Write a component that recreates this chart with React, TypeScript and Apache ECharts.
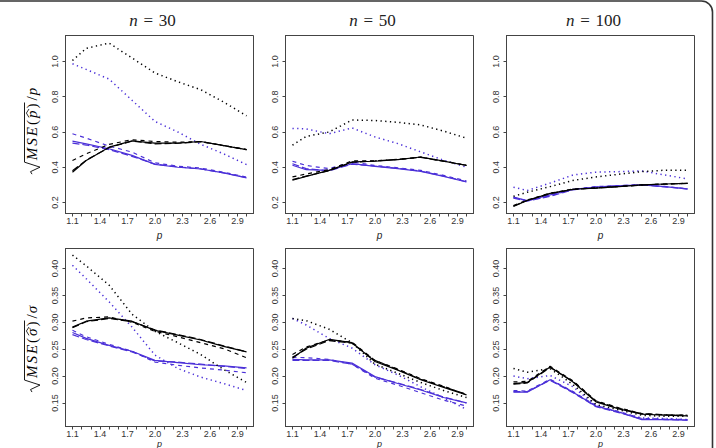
import React, { useEffect, useRef } from "react";
import * as echarts from "echarts";

// Shape parameter values on the horizontal axis
const P_GRID = [1.1, 1.25, 1.5, 1.75, 2.0, 2.25, 2.5, 2.75, 3.0];
const X_TICKS = [1.1, 1.2, 1.3, 1.4, 1.5, 1.6, 1.7, 1.8, 1.9, 2.0, 2.1, 2.2, 2.3, 2.4, 2.5, 2.6, 2.7, 2.8, 2.9, 3.0];
const X_LABELS = [1.1, 1.4, 1.7, 2.0, 2.3, 2.6, 2.9];
const Y_TICKS_P = [0.2, 0.4, 0.6, 0.8, 1.0];
const Y_TICKS_SIGMA = [0.15, 0.2, 0.25, 0.3, 0.35, 0.4];
const SAMPLE_SIZES = [30, 50, 100];

// sqrt(MSE(p-hat))/p, n = 30
const pN30BlackSolid = [0.372, 0.438, 0.514, 0.55, 0.537, 0.537, 0.546, 0.523, 0.5];
const pN30BlackLong = [0.38, 0.44, 0.512, 0.548, 0.533, 0.536, 0.545, 0.524, 0.5];
const pN30BlackShort = [0.438, 0.476, 0.53, 0.556, 0.546, 0.542, 0.546, 0.523, 0.5];
const pN30BlackDotted = [1.006, 1.075, 1.104, 1.02, 0.935, 0.885, 0.84, 0.77, 0.692];
const pN30BlueSolid = [0.548, 0.533, 0.505, 0.467, 0.416, 0.4, 0.39, 0.368, 0.34];
const pN30BlueLong = [0.537, 0.526, 0.5, 0.462, 0.418, 0.402, 0.391, 0.368, 0.341];
const pN30BlueShort = [0.59, 0.565, 0.52, 0.486, 0.425, 0.406, 0.395, 0.372, 0.344];
const pN30BlueDotted = [0.987, 0.955, 0.9, 0.78, 0.66, 0.6, 0.53, 0.476, 0.415];

// sqrt(MSE(p-hat))/p, n = 50
const pN50BlackSolid = [0.326, 0.348, 0.382, 0.43, 0.434, 0.443, 0.458, 0.435, 0.41];
const pN50BlackLong = [0.33, 0.35, 0.38, 0.428, 0.436, 0.445, 0.456, 0.434, 0.411];
const pN50BlackShort = [0.345, 0.362, 0.386, 0.436, 0.436, 0.444, 0.457, 0.435, 0.411];
const pN50BlackDotted = [0.525, 0.575, 0.6, 0.668, 0.665, 0.655, 0.64, 0.605, 0.565];
const pN50BlueSolid = [0.411, 0.386, 0.382, 0.42, 0.405, 0.392, 0.377, 0.348, 0.316];
const pN50BlueLong = [0.42, 0.392, 0.38, 0.418, 0.407, 0.394, 0.378, 0.35, 0.318];
const pN50BlueShort = [0.434, 0.41, 0.392, 0.43, 0.41, 0.397, 0.382, 0.354, 0.322];
const pN50BlueDotted = [0.62, 0.618, 0.59, 0.623, 0.572, 0.534, 0.487, 0.44, 0.4];

// sqrt(MSE(p-hat))/p, n = 100
const pN100BlackSolid = [0.177, 0.211, 0.252, 0.275, 0.281, 0.29, 0.3, 0.305, 0.309];
const pN100BlackLong = [0.18, 0.212, 0.25, 0.274, 0.282, 0.29, 0.299, 0.304, 0.308];
const pN100BlackShort = [0.182, 0.214, 0.253, 0.276, 0.283, 0.291, 0.3, 0.305, 0.309];
const pN100BlackDotted = [0.235, 0.258, 0.29, 0.325, 0.345, 0.36, 0.375, 0.383, 0.383];
const pN100BlueSolid = [0.23, 0.211, 0.243, 0.275, 0.287, 0.294, 0.3, 0.29, 0.277];
const pN100BlueLong = [0.225, 0.208, 0.235, 0.272, 0.288, 0.295, 0.3, 0.289, 0.276];
const pN100BlueShort = [0.228, 0.21, 0.238, 0.274, 0.29, 0.296, 0.301, 0.291, 0.278];
const pN100BlueDotted = [0.287, 0.268, 0.31, 0.356, 0.372, 0.375, 0.379, 0.356, 0.334];

// sqrt(MSE(sigma-hat))/sigma, n = 30
const sN30BlackSolid = [0.291, 0.302, 0.308, 0.302, 0.285, 0.276, 0.267, 0.255, 0.245];
const sN30BlackLong = [0.29, 0.301, 0.307, 0.301, 0.286, 0.277, 0.268, 0.256, 0.245];
const sN30BlackShort = [0.302, 0.308, 0.31, 0.3, 0.283, 0.273, 0.262, 0.251, 0.234];
const sN30BlackDotted = [0.425, 0.405, 0.369, 0.315, 0.283, 0.262, 0.24, 0.212, 0.188];
const sN30BlueSolid = [0.281, 0.27, 0.257, 0.246, 0.229, 0.225, 0.221, 0.219, 0.215];
const sN30BlueLong = [0.277, 0.268, 0.256, 0.245, 0.228, 0.226, 0.222, 0.218, 0.214];
const sN30BlueShort = [0.285, 0.273, 0.259, 0.246, 0.226, 0.22, 0.215, 0.211, 0.206];
const sN30BlueDotted = [0.406, 0.381, 0.338, 0.291, 0.239, 0.214, 0.198, 0.186, 0.173];

// sqrt(MSE(sigma-hat))/sigma, n = 50
const sN50BlackSolid = [0.233, 0.252, 0.268, 0.262, 0.227, 0.211, 0.193, 0.179, 0.165];
const sN50BlackLong = [0.235, 0.25, 0.266, 0.261, 0.229, 0.212, 0.194, 0.18, 0.166];
const sN50BlackShort = [0.24, 0.254, 0.267, 0.263, 0.229, 0.213, 0.195, 0.181, 0.165];
const sN50BlackDotted = [0.307, 0.303, 0.287, 0.262, 0.222, 0.205, 0.188, 0.173, 0.16];
const sN50BlueSolid = [0.231, 0.23, 0.23, 0.224, 0.199, 0.186, 0.174, 0.16, 0.15];
const sN50BlueLong = [0.229, 0.229, 0.229, 0.222, 0.198, 0.187, 0.175, 0.161, 0.15];
const sN50BlueShort = [0.235, 0.234, 0.231, 0.222, 0.196, 0.183, 0.169, 0.155, 0.144];
const sN50BlueDotted = [0.307, 0.295, 0.27, 0.252, 0.221, 0.202, 0.18, 0.159, 0.138];

// sqrt(MSE(sigma-hat))/sigma, n = 100
const sN100BlackSolid = [0.186, 0.188, 0.217, 0.189, 0.152, 0.139, 0.129, 0.127, 0.126];
const sN100BlackLong = [0.185, 0.187, 0.216, 0.19, 0.153, 0.14, 0.13, 0.128, 0.127];
const sN100BlackShort = [0.189, 0.19, 0.218, 0.191, 0.154, 0.141, 0.13, 0.128, 0.127];
const sN100BlackDotted = [0.214, 0.207, 0.214, 0.184, 0.147, 0.137, 0.127, 0.125, 0.125];
const sN100BlueSolid = [0.17, 0.17, 0.193, 0.17, 0.144, 0.133, 0.119, 0.119, 0.118];
const sN100BlueLong = [0.171, 0.171, 0.192, 0.169, 0.143, 0.132, 0.12, 0.119, 0.118];
const sN100BlueShort = [0.173, 0.172, 0.194, 0.171, 0.145, 0.134, 0.121, 0.12, 0.119];
const sN100BlueDotted = [0.2, 0.195, 0.201, 0.18, 0.145, 0.133, 0.122, 0.121, 0.119];

const BLACK = "#000000";
const BLUE = "#4b30d8";
const AXIS_COLOR = "#444444";
const LABEL_COLOR = "#333333";
const SERIF_STACK = '"Liberation Serif", "DejaVu Serif", serif';
const SANS = "Liberation Sans";

type Curve = { values: number[]; color: string; dash: "solid" | "long" | "short" | "dotted" };

function curves(
  blueSolid: number[], blueLong: number[], blueShort: number[], blueDotted: number[],
  blackSolid: number[], blackLong: number[], blackShort: number[], blackDotted: number[]
): Curve[] {
  return [
    { values: blueDotted, color: BLUE, dash: "dotted" },
    { values: blueShort, color: BLUE, dash: "short" },
    { values: blueLong, color: BLUE, dash: "long" },
    { values: blueSolid, color: BLUE, dash: "solid" },
    { values: blackDotted, color: BLACK, dash: "dotted" },
    { values: blackShort, color: BLACK, dash: "short" },
    { values: blackLong, color: BLACK, dash: "long" },
    { values: blackSolid, color: BLACK, dash: "solid" },
  ];
}

const topRow = [
  curves(pN30BlueSolid, pN30BlueLong, pN30BlueShort, pN30BlueDotted, pN30BlackSolid, pN30BlackLong, pN30BlackShort, pN30BlackDotted),
  curves(pN50BlueSolid, pN50BlueLong, pN50BlueShort, pN50BlueDotted, pN50BlackSolid, pN50BlackLong, pN50BlackShort, pN50BlackDotted),
  curves(pN100BlueSolid, pN100BlueLong, pN100BlueShort, pN100BlueDotted, pN100BlackSolid, pN100BlackLong, pN100BlackShort, pN100BlackDotted),
];
const bottomRow = [
  curves(sN30BlueSolid, sN30BlueLong, sN30BlueShort, sN30BlueDotted, sN30BlackSolid, sN30BlackLong, sN30BlackShort, sN30BlackDotted),
  curves(sN50BlueSolid, sN50BlueLong, sN50BlueShort, sN50BlueDotted, sN50BlackSolid, sN50BlackLong, sN50BlackShort, sN50BlackDotted),
  curves(sN100BlueSolid, sN100BlueLong, sN100BlueShort, sN100BlueDotted, sN100BlackSolid, sN100BlackLong, sN100BlackShort, sN100BlackDotted),
];

// layout of the 2 x 3 panel grid
const COL_LEFT = [65.5, 285.5, 506.5];
const ROW_TOP = [35.5, 248.5];
const PANEL_W = 188;
const PANEL_H = 178;
const X_MIN = 1.024;
const X_MAX = 3.076;
const Y_RANGE = [
  [0.1375, 1.1475],
  [0.1061, 0.4372],
];

function dashOf(d: Curve["dash"]): any {
  if (d === "long") return [7, 3];
  if (d === "short") return [4, 4];
  if (d === "dotted") return [1.3, 3.4];
  return "solid";
}

function fontOf(italic: boolean, size: number): string {
  return `${italic ? "italic " : ""}${size}px ${SERIF_STACK}`;
}

let measureCtx: CanvasRenderingContext2D | null = null;
function textWidth(text: string, italic: boolean, size: number): number {
  if (!measureCtx) measureCtx = document.createElement("canvas").getContext("2d");
  if (!measureCtx) return text.length * size * 0.5;
  measureCtx.font = fontOf(italic, size);
  return measureCtx.measureText(text).width;
}

function serifText(t: string, italic: boolean, size: number, x: number, y: number, fill = "#000") {
  return {
    type: "text",
    x,
    y,
    style: {
      text: t,
      font: fontOf(italic, size),
      fill,
      align: "left",
      verticalAlign: "middle",
    },
  };
}

// sqrt(MSE(sym-hat)) / sym, written bottom-to-top
function radicalLabel(sym: string, centerY: number, baselineX: number) {
  const fs = 15;
  const gap = 2;
  const baseShift = -0.3375 * fs;
  const children: any[] = [];
  const parts = [
    { t: "M", it: true, hat: false },
    { t: "S", it: true, hat: false },
    { t: "E", it: true, hat: false },
    { t: "(", it: false, hat: false },
    { t: sym, it: true, hat: true },
    { t: ")", it: false, hat: false },
  ];
  let x = 14;
  for (const p of parts) {
    const w = textWidth(p.t, p.it, fs);
    children.push(serifText(p.t, p.it, fs, x, baseShift));
    if (p.hat) {
      children.push({
        type: "polyline",
        shape: { points: [[x + 0.5, -8], [x + w / 2 + 1.2, -10.6], [x + w + 1.5, -8]] },
        style: { stroke: "#000", lineWidth: 0.8, fill: null },
      });
    }
    x += w + gap;
  }
  const overEnd = x - gap + 1;
  children.push({
    type: "polyline",
    shape: { points: [[0, -5], [2.5, -6.5], [7, 3], [12, -12.5], [overEnd, -12.5]] },
    style: { stroke: "#000", lineWidth: 0.9, fill: null },
  });
  x = overEnd + 2;
  children.push(serifText("/", false, fs, x, baseShift));
  x += textWidth("/", false, fs) + 1;
  children.push(serifText(sym, true, fs, x, baseShift));
  x += textWidth(sym, true, fs);
  return {
    type: "group",
    x: baselineX,
    y: centerY + x / 2,
    rotation: Math.PI / 2,
    children,
  };
}

// "n = 30" style panel heading, italic n and upright rest
function panelTitle(n: number, centerX: number, y: number) {
  const fs = 17;
  const head = "n";
  const tail = `\u2004=\u2004${n}`;
  const w1 = textWidth(head, true, fs);
  const w2 = textWidth(tail, false, fs);
  const x0 = centerX - (w1 + w2) / 2;
  return {
    type: "group",
    children: [
      serifText(head, true, fs, x0, y, "#222"),
      serifText(tail, false, fs, x0 + w1, y, "#222"),
    ],
  };
}

export default function App() {
  const ref = useRef<HTMLDivElement>(null);

  useEffect(() => {
    if (!ref.current) return;
    const chart = echarts.init(ref.current, null, { renderer: "svg" });

    const grids: any[] = [];
    const xAxes: any[] = [];
    const yAxes: any[] = [];
    const series: any[] = [];
    const rows = [topRow, bottomRow];

    rows.forEach((row, r) => {
      row.forEach((panelCurves, c) => {
        const idx = grids.length;
        grids.push({
          left: COL_LEFT[c],
          top: ROW_TOP[r],
          width: PANEL_W,
          height: PANEL_H,
          show: true,
          borderColor: AXIS_COLOR,
          borderWidth: 1,
          backgroundColor: "transparent",
          containLabel: false,
          outerBoundsMode: "none",
        });
        xAxes.push({
          type: "value",
          gridIndex: idx,
          min: X_MIN,
          max: X_MAX,
          name: "p",
          nameLocation: "middle",
          nameGap: r === 0 ? 16 : 10,
          nameTextStyle: {
            fontFamily: SANS,
            fontStyle: "italic",
            fontSize: r === 0 ? 10 : 9,
            lineHeight: r === 0 ? 12 : 9,
            color: "#222",
          },
          axisLine: { show: true, lineStyle: { color: AXIS_COLOR, width: 1 } },
          splitLine: { show: false },
          axisTick: { show: true, length: 3, customValues: X_TICKS, lineStyle: { color: AXIS_COLOR } },
          axisLabel: {
            customValues: X_LABELS,
            formatter: (v: number) => v.toFixed(1),
            fontFamily: SANS,
            fontSize: 9,
            color: LABEL_COLOR,
            margin: 3,
          },
        });
        const yTicks = r === 0 ? Y_TICKS_P : Y_TICKS_SIGMA;
        yAxes.push({
          type: "value",
          gridIndex: idx,
          min: Y_RANGE[r][0],
          max: Y_RANGE[r][1],
          axisLine: { show: true, lineStyle: { color: AXIS_COLOR, width: 1 } },
          splitLine: { show: false },
          axisTick: { show: true, length: 3, customValues: yTicks, lineStyle: { color: AXIS_COLOR } },
          axisLabel: {
            customValues: yTicks,
            rotate: 90,
            formatter: (v: number) => (r === 0 ? v.toFixed(1) : v.toFixed(2)),
            fontFamily: SANS,
            fontSize: 9,
            color: LABEL_COLOR,
            margin: 6,
          },
        });
        panelCurves.forEach((cv) => {
          series.push({
            type: "line",
            xAxisIndex: idx,
            yAxisIndex: idx,
            data: P_GRID.map((p, k) => [p, cv.values[k]]),
            symbol: "none",
            silent: true,
            lineStyle: {
              color: cv.color,
              width: cv.dash === "dotted" ? 1.5 : 1.2,
              type: dashOf(cv.dash),
            },
          });
        });
      });
    });

    const graphics: any[] = [
      {
        type: "rect",
        shape: { x: -20, y: 1, width: 732.5, height: 480, r: 11 },
        style: { fill: null, stroke: "#333", lineWidth: 1.6 },
        silent: true,
      },
    ];
    SAMPLE_SIZES.forEach((n, c) => {
      graphics.push(panelTitle(n, COL_LEFT[c] + PANEL_W / 2 - 7, 20));
    });
    graphics.push(radicalLabel("p", 131, 37));
    graphics.push(radicalLabel("σ", 349, 37));

    chart.setOption({
      animation: false,
      backgroundColor: "#ffffff",
      grid: grids,
      xAxis: xAxes,
      yAxis: yAxes,
      series,
      graphic: graphics,
    });

    return () => chart.dispose();
  }, []);

  return (
    <div
      ref={ref}
      style={{ position: "absolute", left: 0, top: 0, width: 716, height: 448 }}
    />
  );
}
